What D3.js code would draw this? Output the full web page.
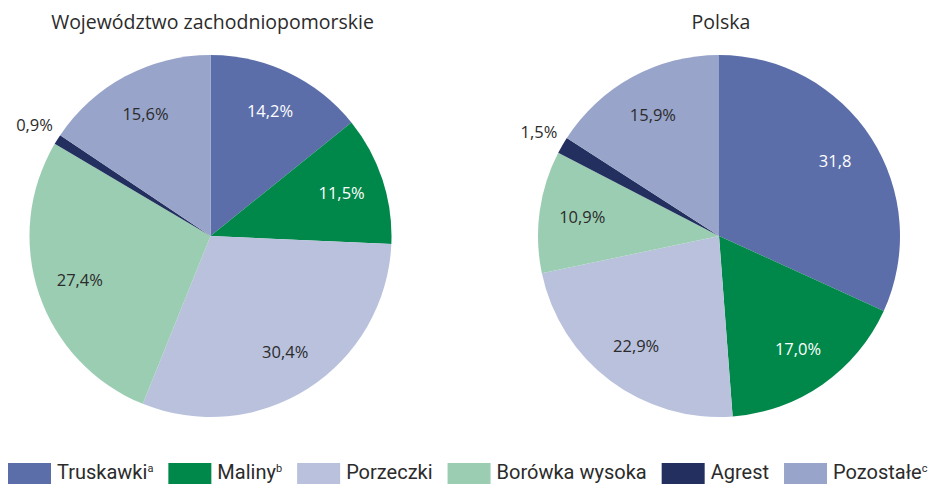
<!DOCTYPE html>
<html>
<head>
<meta charset="utf-8">
<script src="https://cdn.jsdelivr.net/npm/d3@7"></script>
<style>
  body { margin: 0; background: #fff; }
  text { font-family: "Open Sans", Roboto, sans-serif; }
  .legend text { font-family: Roboto, sans-serif; }
</style>
</head>
<body>
<div id="board"></div>
<script>

let categories = ["Truskawki", "Maliny", "Porzeczki", "Borówka wysoka", "Agrest", "Pozostałe"];
let footnotes = ["a", "b", "", "", "", "c"];
let colors = ["#5b6ea9", "#00884a", "#b9c1dd", "#9bcdb3", "#23305f", "#98a4c9"];

let zachValues = [14.2, 11.5, 30.4, 27.4, 0.9, 15.6];
let zachLabels = ["14,2%", "11,5%", "30,4%", "27,4%", "0,9%", "15,6%"];

let polskaValues = [31.8, 17.0, 22.9, 10.9, 1.5, 15.9];
let polskaLabels = ["31,8", "17,0%", "22,9%", "10,9%", "1,5%", "15,9%"];

let titles = ["Województwo zachodniopomorskie", "Polska"];

let board = d3.select("#board")
    .append("svg")
    .attr("width", 936)
    .attr("height", 484);

let radius = 181;
let whiteText = ["Truskawki", "Maliny"];

let color = d3.scaleOrdinal()
    .domain(categories)
    .range(colors);

let pie = d3.pie()
    .sort(null)
    .value(d => d.value);

let arc = d3.arc()
    .innerRadius(0)
    .outerRadius(radius);

let labelArc = d3.arc()
    .innerRadius(138)
    .outerRadius(138);

let outerArc = d3.arc()
    .innerRadius(208)
    .outerRadius(208);

function drawPie(cx, title, values, labels) {
    let rows = categories.map((c, i) => ({ name: c, value: values[i], label: labels[i] }));

    board.append("text")
        .attr("x", cx + 2)
        .attr("y", 29)
        .attr("text-anchor", "middle")
        .style("font-size", "19.5px")
        .style("fill", "#2b2b2b")
        .text(title);

    let g = board.append("g")
        .attr("transform", "translate(" + cx + ",236)");

    let slices = pie(rows);

    g.selectAll("path")
        .data(slices)
        .enter()
        .append("path")
        .attr("d", arc)
        .attr("fill", d => color(d.data.name));

    g.selectAll("text")
        .data(slices)
        .enter()
        .append("text")
        .attr("transform", d => {
            let p = d.data.value < 3 ? outerArc.centroid(d) : labelArc.centroid(d);
            return "translate(" + p + ")";
        })
        .attr("dy", "0.35em")
        .attr("text-anchor", "middle")
        .style("font-size", "16.5px")
        .style("fill", d => whiteText.includes(d.data.name) ? "#ffffff" : "#2b2b2b")
        .text(d => d.data.label);
}

drawPie(210.5, titles[0], zachValues, zachLabels);
drawPie(719, titles[1], polskaValues, polskaLabels);

// legend
let legend = board.append("g").attr("class", "legend");
let lx = 8;
categories.forEach((c, i) => {
    legend.append("rect")
        .attr("x", lx)
        .attr("y", 463)
        .attr("width", 43)
        .attr("height", 24)
        .attr("fill", color(c));

    let t = legend.append("text")
        .attr("x", lx + 49)
        .attr("y", 479)
        .style("font-size", "20px")
        .style("fill", "#2b2b2b")
        .text(c);
    if (footnotes[i]) {
        t.append("tspan")
            .attr("dy", -7)
            .style("font-size", "11px")
            .text(footnotes[i]);
    }
    lx = lx + 49 + t.node().getComputedTextLength() + 15;
});

</script>
</body>
</html>
